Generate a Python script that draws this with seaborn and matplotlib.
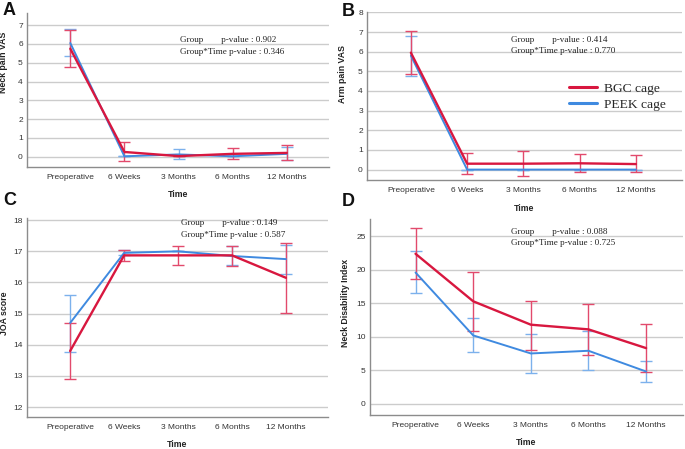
import numpy as np
import pandas as pd
import matplotlib
matplotlib.use("Agg")
import matplotlib.pyplot as plt
import seaborn as sns
from matplotlib.lines import Line2D

sns.set_style("white")
plt.rcParams['font.family'] = ['Liberation Sans', 'DejaVu Sans']

times = ["Preoperative", "6 Weeks", "3 Months", "6 Months", "12 Months"]
groups = ["BGC cage", "PEEK cage"]

# Panel A: Neck pain VAS
a_bgc_mean = [5.75, 0.25, 0.03, 0.15, 0.20]
a_bgc_lo = [4.75, -0.25, 0.03, -0.15, -0.20]
a_bgc_hi = [6.75, 0.80, 0.03, 0.47, 0.62]
a_peek_mean = [6.05, 0.02, 0.12, 0.02, 0.15]
a_peek_lo = [5.38, 0.02, -0.12, 0.02, -0.18]
a_peek_hi = [6.80, 0.02, 0.40, 0.02, 0.50]

# Panel B: Arm pain VAS
b_bgc_mean = [5.95, 0.30, 0.30, 0.32, 0.28]
b_bgc_lo = [4.85, -0.22, -0.33, -0.13, -0.13]
b_bgc_hi = [7.05, 0.82, 0.93, 0.78, 0.73]
b_peek_mean = [5.80, 0.0, 0.0, 0.0, 0.0]
b_peek_lo = [4.78, 0.0, 0.0, 0.0, 0.0]
b_peek_hi = [6.82, 0.0, 0.0, 0.0, 0.0]

# Panel C: JOA score
c_bgc_mean = [13.80, 16.87, 16.87, 16.87, 16.15]
c_bgc_lo = [12.90, 16.68, 16.55, 16.53, 15.03]
c_bgc_hi = [14.70, 17.03, 17.18, 17.18, 17.27]
c_peek_mean = [14.70, 16.95, 17.00, 16.85, 16.75]
c_peek_lo = [13.77, 16.87, 17.00, 16.55, 16.28]
c_peek_hi = [15.60, 17.05, 17.00, 17.17, 17.20]

# Panel D: Neck Disability Index
d_bgc_mean = [22.4, 15.3, 11.8, 11.1, 8.3]
d_bgc_lo = [18.6, 10.9, 8.0, 7.2, 4.7]
d_bgc_hi = [26.2, 19.7, 15.4, 14.9, 11.9]
d_peek_mean = [19.6, 10.2, 7.5, 7.9, 4.8]
d_peek_lo = [16.6, 7.7, 4.6, 5.1, 3.2]
d_peek_hi = [22.8, 12.8, 10.4, 10.8, 6.3]

RED = "#d8173f"
RED_E = "#e24a6c"
BLUE = "#3f8ae0"
BLUE_E = "#7cb1ec"

W, H = 685, 449
fig = plt.figure(figsize=(W / 100, H / 100), dpi=100)


def make_ax(l, r, t, b):
    return fig.add_axes([l / W, 1 - b / H, (r - l) / W, (b - t) / H])


def panel(ax, bm, bl, bh, pm, pl, ph, ylim, yticks, xlim, ylabel, ylab_x, ylab_y,
          xlab_y, ann_x, ann_y, ann_texts):
    df = pd.DataFrame({
        "Time": times * 2,
        "Group": [groups[0]] * 5 + [groups[1]] * 5,
        "Mean": list(bm) + list(pm),
    })
    df["Time"] = pd.Categorical(df["Time"], categories=times, ordered=True)
    x = np.arange(len(times))
    # blue first, red on top
    ax.errorbar(x, pm, yerr=[np.array(pm) - np.array(pl), np.array(ph) - np.array(pm)],
                fmt='none', ecolor=BLUE_E, elinewidth=1.0, capsize=4.3, capthick=1.0, zorder=2)
    ax.errorbar(x, bm, yerr=[np.array(bm) - np.array(bl), np.array(bh) - np.array(bm)],
                fmt='none', ecolor=RED_E, elinewidth=1.0, capsize=4.3, capthick=1.0, zorder=3)
    sns.lineplot(data=df[df["Group"] == groups[1]], x="Time", y="Mean", color=BLUE,
                 lw=1.4, ax=ax, legend=False, zorder=4, sort=False)
    sns.lineplot(data=df[df["Group"] == groups[0]], x="Time", y="Mean", color=RED,
                 lw=1.7, ax=ax, legend=False, zorder=5, sort=False)
    ax.set_xlim(*xlim)
    ax.set_ylim(*ylim)
    ax.set_yticks(yticks)
    ax.set_xticks(x)
    ax.set_xticklabels(times)
    ax.yaxis.grid(True, color="#cccccc", lw=1.0)
    ax.xaxis.grid(False)
    ax.set_axisbelow(True)
    for s in ["top", "right"]:
        ax.spines[s].set_visible(False)
    for s in ["left", "bottom"]:
        ax.spines[s].set_color("#8c8c8c")
        ax.spines[s].set_linewidth(1.0)
    ax.tick_params(axis='both', length=0, labelsize=6, colors="#333333")
    ax.tick_params(axis='x', pad=5)
    ax.tick_params(axis='y', pad=3)
    ax.set_xlabel("Time", fontsize=6.3, fontweight='bold', color="#222222")
    ax.xaxis.set_label_coords(0.5, xlab_y)
    ax.set_ylabel(ylabel, fontsize=6.3, fontweight='bold', color="#222222")
    ax.yaxis.set_label_coords(ylab_x, ylab_y)
    for txt, yy in zip(ann_texts, ann_y):
        ax.text(ann_x, yy, txt, transform=ax.transAxes, fontsize=6.6,
                family='Liberation Serif', va='center', ha='left', color="#222222")


axA = make_ax(27, 329, 13, 167)
panel(axA, a_bgc_mean, a_bgc_lo, a_bgc_hi, a_peek_mean, a_peek_lo, a_peek_hi,
      (-0.55, 7.65), range(0, 8), (-0.8, 4.78), "Neck pain VAS", -0.063, 0.679, -0.149,
      0.507, [0.825, 0.749],
      ["Group        p-value : 0.902", "Group*Time p-value : 0.346"])

axB = make_ax(367, 682, 12, 180)
panel(axB, b_bgc_mean, b_bgc_lo, b_bgc_hi, b_peek_mean, b_peek_lo, b_peek_hi,
      (-0.53, 8.02), range(0, 9), (-0.78, 4.82), "Arm pain VAS", -0.063, 0.631, -0.143,
      0.457, [0.833, 0.766],
      ["Group        p-value : 0.414", "Group*Time p-value : 0.770"])

axC = make_ax(27, 328, 218, 417)
panel(axC, c_bgc_mean, c_bgc_lo, c_bgc_hi, c_peek_mean, c_peek_lo, c_peek_hi,
      (11.68, 18.07), range(12, 19), (-0.8, 4.78), "JOA score", -0.06, 0.523, -0.116,
      0.512, [0.976, 0.915],
      ["Group        p-value : 0.149", "Group*Time p-value : 0.587"])

axD = make_ax(370, 683, 219, 415)
panel(axD, d_bgc_mean, d_bgc_lo, d_bgc_hi, d_peek_mean, d_peek_lo, d_peek_hi,
      (-1.7, 27.6), range(0, 30, 5), (-0.79, 4.64), "Neck Disability Index", -0.064, 0.571, -0.117,
      0.45, [0.935, 0.876],
      ["Group        p-value : 0.088", "Group*Time p-value : 0.725"])

handles = [Line2D([0], [0], color=RED, lw=2.2), Line2D([0], [0], color=BLUE, lw=2.2)]
axB.legend(handles, groups, loc='center left', bbox_to_anchor=(0.64, 0.497),
           frameon=False, prop={'family': 'Liberation Serif', 'size': 9.7},
           handlelength=2.1, handletextpad=0.5, labelspacing=0.25, borderpad=0,
           borderaxespad=0)

for letter, lx, ly in [("A", 3, 2), ("B", 342, 3), ("C", 3, 192), ("D", 342, 193)]:
    fig.text(lx / W, 1 - ly / H, letter, fontsize=13, fontweight='bold',
             va='top', ha='left', color="#111111")

fig.savefig("out.png", dpi=100)
